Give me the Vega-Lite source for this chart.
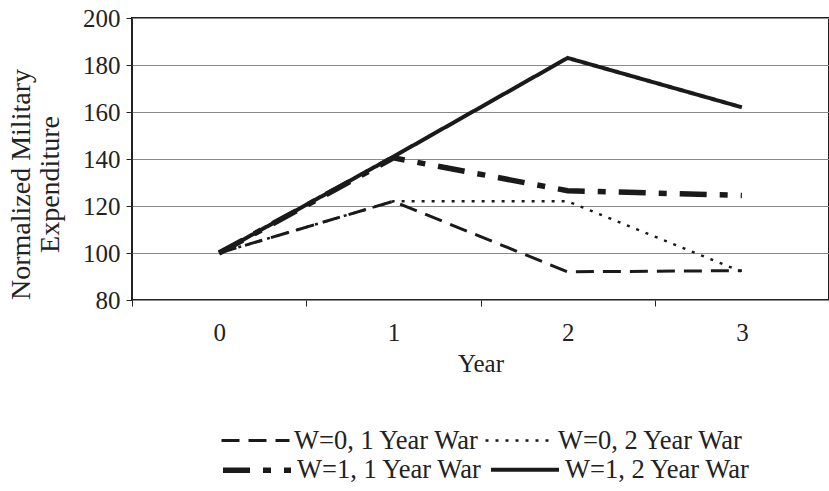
{
  "$schema": "https://vega.github.io/schema/vega-lite/v6.json",
  "width": 697,
  "height": 282,
  "autosize": {"type": "none"},
  "padding": {"left": 132, "top": 18, "right": 0, "bottom": 191},
  "background": "white",
  "config": {
    "font": "Liberation Serif",
    "view": {"stroke": "#222", "strokeWidth": 2},
    "axis": {"labelFont": "Liberation Serif", "titleFont": "Liberation Serif", "labelColor": "#222", "titleColor": "#222", "titleFontWeight": "normal"},
    "legend": {
      "title": null, "orient": "none", "legendX": 88,
      "direction": "horizontal", "columns": 2,
      "symbolType": "stroke", "symbolSize": 4624, "symbolStrokeColor": "#1a1a1a",
      "labelFont": "Liberation Serif", "labelFontSize": 26.5, "labelColor": "#222", "labelLimit": 400,
      "labelOffset": 3, "columnPadding": 0
    }
  },
  "data": {
    "values": [
      {"year": "0", "series": "W=0, 1 Year War", "value": 100},
      {"year": "1", "series": "W=0, 1 Year War", "value": 122},
      {"year": "2", "series": "W=0, 1 Year War", "value": 92},
      {"year": "3", "series": "W=0, 1 Year War", "value": 92.5},
      {"year": "0", "series": "W=0, 2 Year War", "value": 100},
      {"year": "1", "series": "W=0, 2 Year War", "value": 122},
      {"year": "2", "series": "W=0, 2 Year War", "value": 122},
      {"year": "3", "series": "W=0, 2 Year War", "value": 92},
      {"year": "0", "series": "W=1, 1 Year War", "value": 100},
      {"year": "1", "series": "W=1, 1 Year War", "value": 140.5},
      {"year": "2", "series": "W=1, 1 Year War", "value": 126.5},
      {"year": "3", "series": "W=1, 1 Year War", "value": 124.5},
      {"year": "0", "series": "W=1, 2 Year War", "value": 100},
      {"year": "1", "series": "W=1, 2 Year War", "value": 141},
      {"year": "2", "series": "W=1, 2 Year War", "value": 183},
      {"year": "3", "series": "W=1, 2 Year War", "value": 162}
    ]
  },
  "encoding": {
    "x": {
      "field": "year", "type": "ordinal",
      "scale": {"type": "band", "paddingInner": 0, "paddingOuter": 0},
      "axis": {
        "title": "Year", "titleFontSize": 25, "titlePadding": 6,
        "labelAngle": 0, "labelFontSize": 25, "labelPadding": 14,
        "tickBand": "extent", "tickSize": 6, "tickColor": "#222",
        "domain": false, "grid": false
      }
    },
    "y": {
      "field": "value", "type": "quantitative",
      "scale": {"domain": [80, 200], "nice": false, "zero": false},
      "axis": {
        "values": [80, 100, 120, 140, 160, 180, 200],
        "title": ["Normalized Military", "Expenditure"],
        "titleFontSize": 28, "titleLineHeight": 29,
        "titleAngle": -90, "titleBaseline": "middle", "titleAlign": "center",
        "titleX": -111, "titleY": 166,
        "labelFontSize": 25, "labelPadding": 6,
        "tickSize": 6, "tickColor": "#222",
        "domain": false,
        "grid": true, "gridColor": "#8a8a8a", "gridWidth": 1
      }
    },
    "detail": {"field": "series"}
  },
  "layer": [
    {
      "transform": [{"filter": {"field": "series", "oneOf": ["W=0, 1 Year War", "W=0, 2 Year War"]}}],
      "mark": {"type": "line", "color": "#1a1a1a"},
      "encoding": {
        "strokeDash": {
          "field": "series", "type": "ordinal",
          "scale": {"domain": ["W=0, 1 Year War", "W=0, 2 Year War"], "range": [[18, 9], [3, 7]]},
          "legend": {"legendY": 387}
        },
        "strokeWidth": {
          "field": "series", "type": "ordinal",
          "scale": {"type": "ordinal", "domain": ["W=0, 1 Year War", "W=0, 2 Year War"], "range": [3, 2.5]},
          "legend": {"legendY": 387}
        }
      }
    },
    {
      "transform": [{"filter": {"field": "series", "oneOf": ["W=1, 1 Year War", "W=1, 2 Year War"]}}],
      "mark": {"type": "line", "color": "#1a1a1a"},
      "encoding": {
        "strokeDash": {
          "field": "series", "type": "ordinal",
          "scale": {"domain": ["W=1, 1 Year War", "W=1, 2 Year War"], "range": [[27, 13, 8, 13], [1, 0]]},
          "legend": {"legendY": 415}
        },
        "strokeWidth": {
          "field": "series", "type": "ordinal",
          "scale": {"type": "ordinal", "domain": ["W=1, 1 Year War", "W=1, 2 Year War"], "range": [5.5, 4]},
          "legend": {"legendY": 415}
        }
      }
    }
  ],
  "resolve": {
    "scale": {"strokeDash": "independent", "strokeWidth": "independent"},
    "legend": {"strokeDash": "independent", "strokeWidth": "independent"}
  }
}
